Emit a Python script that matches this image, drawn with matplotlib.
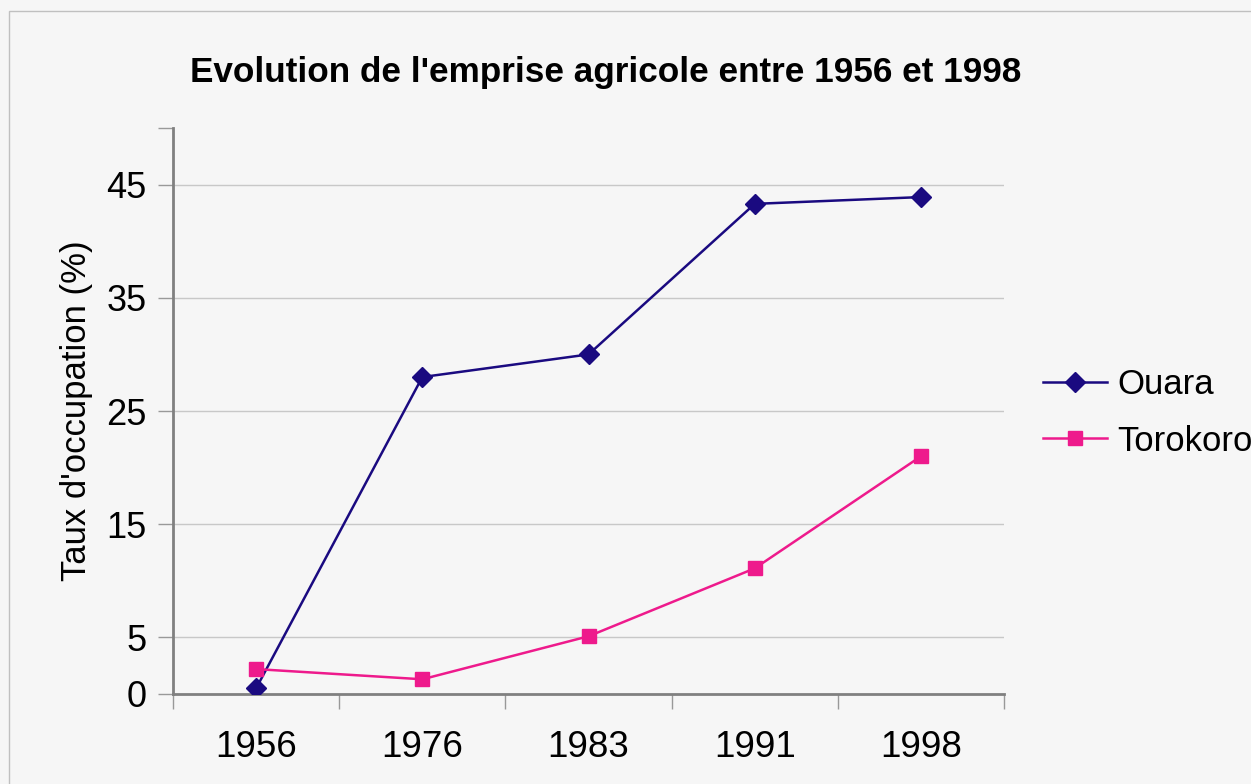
import matplotlib.pyplot as plt
import numpy as np

# data
years = ['1956', '1976', '1983', '1991', '1998']
ouara = [0.5, 28.0, 30.0, 43.3, 43.9]
torokoro = [2.2, 1.3, 5.1, 11.1, 21.0]
y_ticks = [0, 5, 15, 25, 35, 45]

plt.rcParams['font.family'] = ['Liberation Sans', 'DejaVu Sans']

bg = '#f6f6f6'
fig = plt.figure(figsize=(12.51, 7.84), dpi=100, facecolor=bg)
ax = fig.add_axes([0.1383, 0.1148, 0.6643, 0.7219], facecolor=bg)

x = np.arange(len(years))
ax.plot(x, ouara, color='#1a0a80', lw=1.8, marker='D', ms=10, label='Ouara', zorder=3)
ax.plot(x, torokoro, color='#ee1a8c', lw=1.8, marker='s', ms=10, label='Torokoro', zorder=3)

ax.set_xlim(-0.5, len(years) - 0.5)
ax.set_ylim(0, 50)

# category labels in the middle, tick marks on the boundaries
ax.set_xticks(x)
ax.set_xticklabels(years, fontsize=26.5)
ax.tick_params(axis='x', which='major', length=0, pad=26)
ax.set_xticks(np.arange(-0.5, len(years)), minor=True)
ax.tick_params(axis='x', which='minor', length=11, width=1, color='#999999', direction='out')

ax.set_yticks(y_ticks + [50])
ax.set_yticklabels([str(t) for t in y_ticks] + [''], fontsize=26)
ax.tick_params(axis='y', length=11, width=1, color='#999999', pad=8)
for t in y_ticks[1:]:
    ax.axhline(t, color='#c8c8c8', lw=1, zorder=1)

for side in ['top', 'right']:
    ax.spines[side].set_visible(False)
for side in ['left', 'bottom']:
    ax.spines[side].set_color('#808080')
    ax.spines[side].set_linewidth(2)

ax.set_ylabel("Taux d'occupation (%)", fontsize=25)
ax.yaxis.set_label_coords(-80 / 831, 0.5)
fig.text(0.484, 0.907, "Evolution de l'emprise agricole entre 1956 et 1998",
         ha='center', va='center', fontsize=25.3, fontweight='bold')

ax.legend(loc='center left', bbox_to_anchor=(1.0, 0.497), frameon=False,
          fontsize=25, handlelength=1.85, handletextpad=0.3, labelspacing=0.68,
          borderaxespad=0.72)

# thin frame around the chart area
fig.patches.append(plt.Rectangle((9 / 1251, -0.1), 1.2, 1 - 11 / 784 + 0.1,
                                 transform=fig.transFigure, fill=False,
                                 edgecolor='#c0c0c0', lw=1))

plt.savefig('out.png', dpi=100, facecolor=bg)
